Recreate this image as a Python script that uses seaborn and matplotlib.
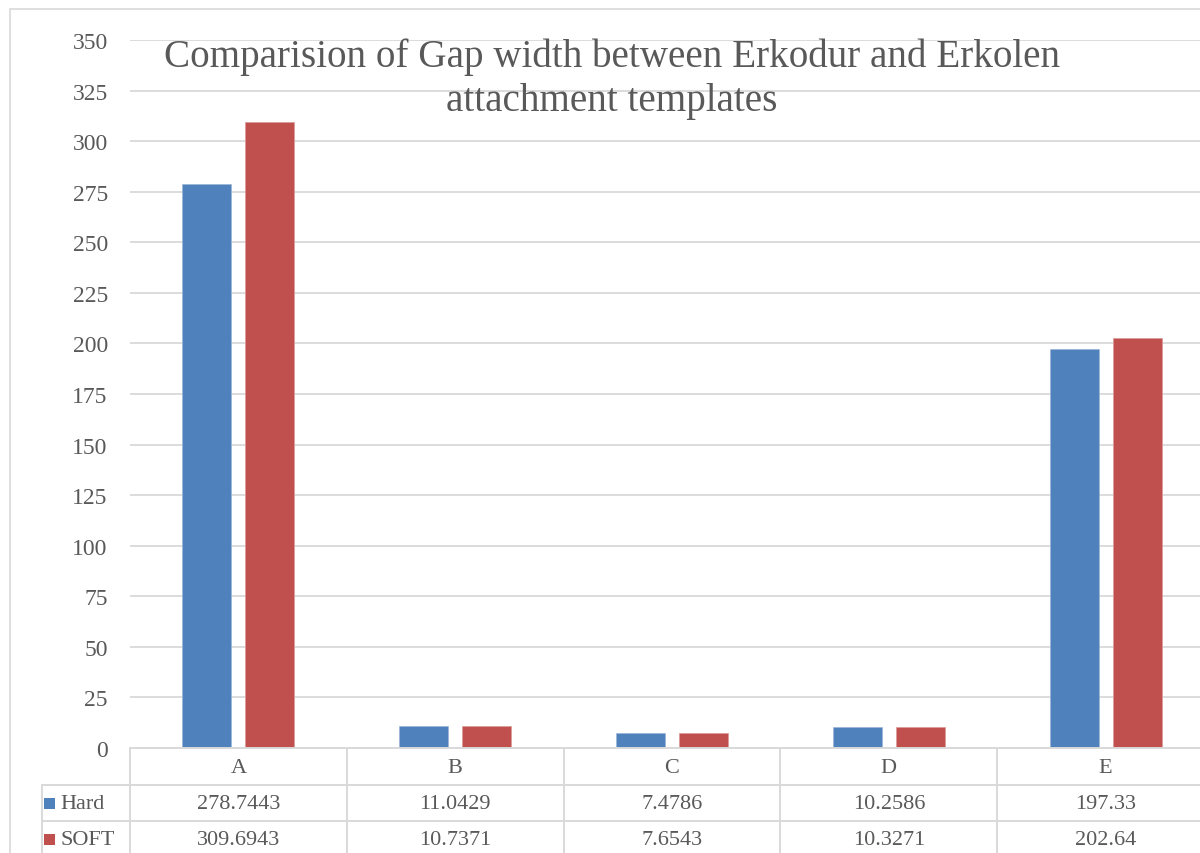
import matplotlib
matplotlib.use("Agg")
import matplotlib.pyplot as plt
import seaborn as sns
import pandas as pd
from matplotlib.patches import Rectangle
from matplotlib.lines import Line2D

categories = ["A", "B", "C", "D", "E"]
hard = [278.7443, 11.0429, 7.4786, 10.2586, 197.33]
soft = [309.6943, 10.7371, 7.6543, 10.3271, 202.64]
hard_labels = ["278.7443", "11.0429", "7.4786", "10.2586", "197.33"]
soft_labels = ["309.6943", "10.7371", "7.6543", "10.3271", "202.64"]
series = ["Hard", "SOFT"]
colors = ["#4F81BD", "#C0504D"]
yticks = list(range(0, 351, 25))
title = "Comparision of Gap width between Erkodur and Erkolen\nattachment templates"

sns.set_theme(style="white")
plt.rcParams["font.family"] = ["Liberation Serif", "DejaVu Serif"]
txt = "#595959"
grid = "#D9D9D9"

df = pd.DataFrame({
    "cat": categories * 2,
    "val": hard + soft,
    "series": [series[0]] * 5 + [series[1]] * 5,
})

W, H = 1200, 854
fig = plt.figure(figsize=(W / 100, H / 100), dpi=100)
fig.patch.set_facecolor("white")

left, right, top, bottom = 130, 1214, 41, 749
ax = fig.add_axes([left / W, 1 - bottom / H, (right - left) / W, (bottom - top) / H])

sns.barplot(data=df, x="cat", y="val", hue="series", palette=colors, saturation=1,
            width=0.58, gap=0.22, ax=ax, legend=False, edgecolor="#9DB6D8", linewidth=0.5)
for p in ax.patches[5:]:
    p.set_edgecolor("#DC9A98")

ax.set_ylim(0, 350)
ax.set_xlim(-0.5, 4.5)
ax.set_yticks(yticks)
ax.set_yticklabels([str(t) for t in yticks], fontsize=17, color=txt)
ax.set_xticks([])
ax.set_xlabel("")
ax.set_ylabel("")
ax.tick_params(axis="y", length=0, pad=16)
ax.yaxis.grid(True, color=grid, linewidth=1.3)
ax.set_axisbelow(True)
for s in ax.spines.values():
    s.set_visible(False)

# title
fig.text(612 / W, 1 - 79 / H, title, ha="center", va="center", fontsize=28.2,
         color=txt, linespacing=1.24)

# outer chart border
fig.add_artist(Rectangle((10 / W, -0.1), 1.2, 1 - 10 / H + 0.1, transform=fig.transFigure,
                         fill=False, edgecolor=grid, linewidth=1.2))

# data table
def fy(py):
    return 1 - py / H

def fx(px):
    return px / W

tf = fig.transFigure
lines = [
    ((left, 1200), (749, 749)),
    ((42, 1200), (786, 786)),
    ((42, 1200), (822, 822)),
    ((42, 42), (786, 860)),
]
for i in range(6):
    xp = left + i * (right - left) / 5
    lines.append(((xp, xp), (749, 860)))
for (x0, x1), (y0, y1) in lines:
    fig.add_artist(Line2D([fx(x0), fx(x1)], [fy(y0), fy(y1)], transform=tf,
                          color=grid, linewidth=1.4))

xt = ax.get_xaxis_transform()
rows_y = [769, 805, 841]
span = bottom - top
for i, c in enumerate(categories):
    ax.text(i, -(rows_y[0] - bottom) / span, c, transform=xt, ha="center", va="center",
            fontsize=16, color=txt, clip_on=False)
    ax.text(i, -(rows_y[1] - bottom) / span, hard_labels[i], transform=xt,
            ha="center", va="center", fontsize=16, color=txt, clip_on=False)
    ax.text(i, -(rows_y[2] - bottom) / span, soft_labels[i], transform=xt,
            ha="center", va="center", fontsize=16, color=txt, clip_on=False)

for name, col, yc in zip(series, colors, rows_y[1:]):
    fig.add_artist(Rectangle((fx(44), fy(yc + 5)), 11 / W, 11 / H, transform=tf,
                             facecolor=col, edgecolor="none"))
    fig.text(fx(60), fy(yc), name, ha="left", va="center", fontsize=16, color=txt)

fig.savefig("out.png", dpi=100, facecolor="white")
